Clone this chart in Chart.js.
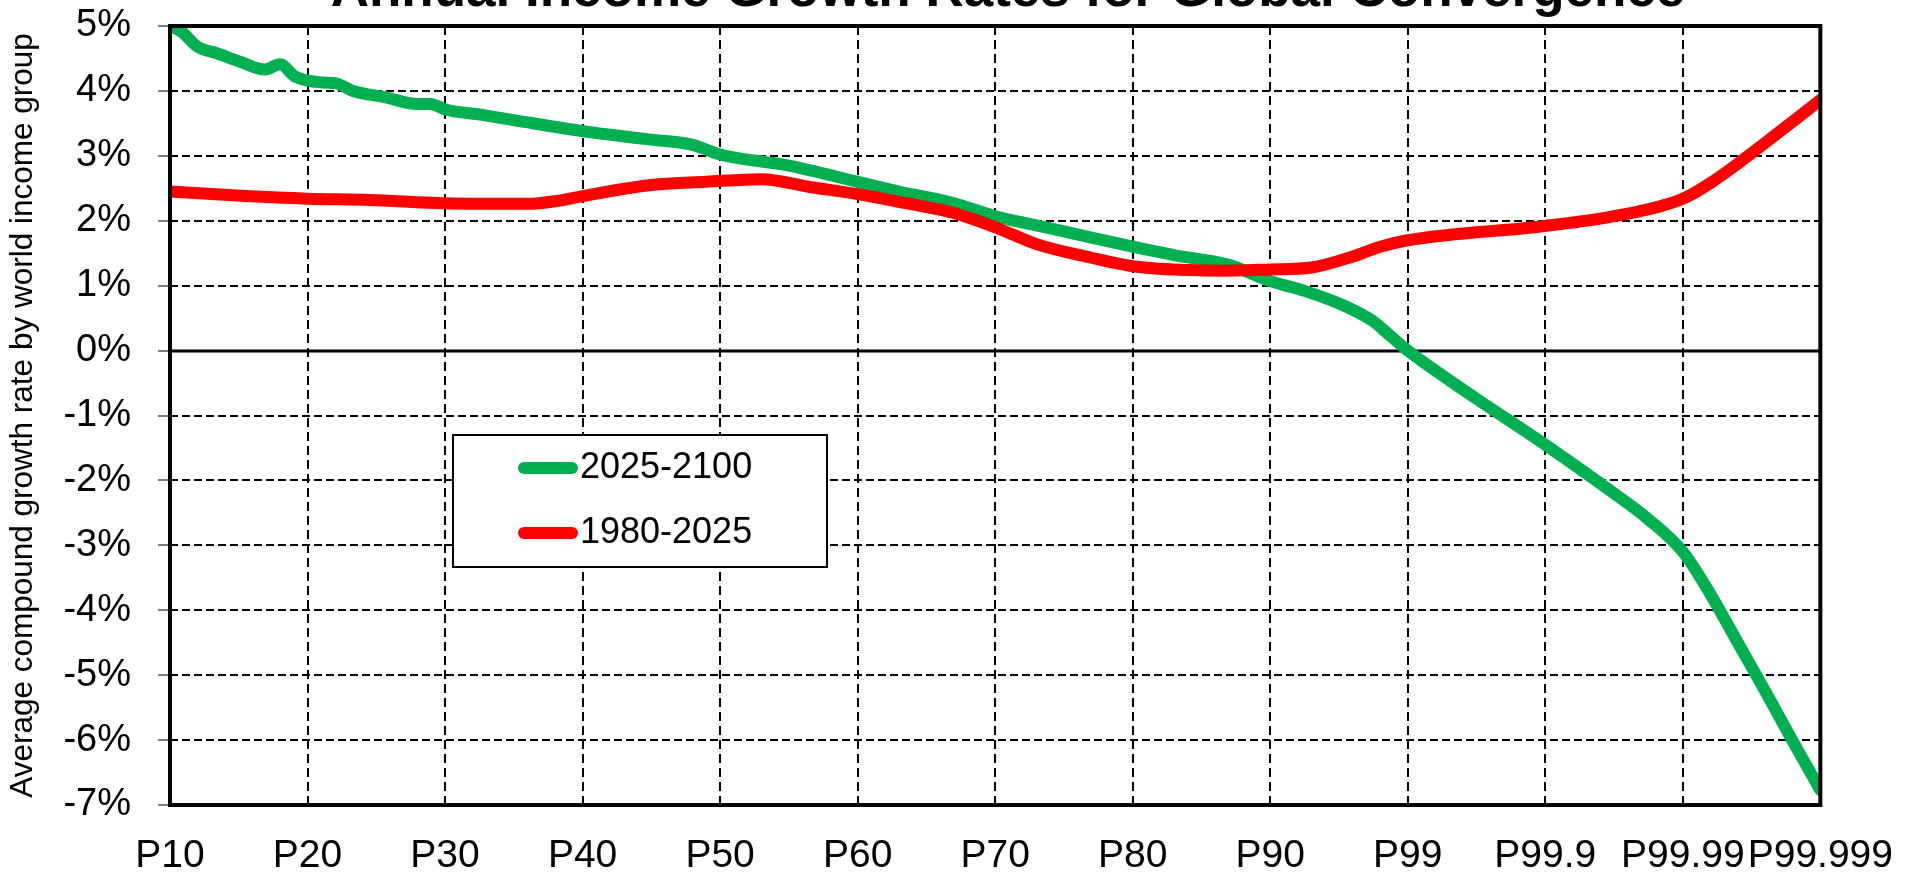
<!DOCTYPE html>
<html>
<head>
<meta charset="utf-8">
<title>Annual Income Growth Rates for Global Convergence</title>
<script src="https://cdn.jsdelivr.net/npm/chart.js@4.4.1/dist/chart.umd.min.js"></script>
<style>
    html, body { margin: 0; padding: 0; background: #fff; }
    #wrap { width: 1921px; height: 875px; }
</style>
</head>
<body>
<div id="wrap"><canvas id="growthChart" width="1921" height="875"></canvas></div>
<script>
var chartTitle = 'Annual Income Growth Rates for Global Convergence';
var yAxisTitle = 'Average compound growth rate by world income group';

// x axis: one label per grid step
var xTickLabels = ['P10', 'P20', 'P30', 'P40', 'P50', 'P60', 'P70', 'P80', 'P90', 'P99', 'P99.9', 'P99.99', 'P99.999'];

// y axis range (percent)
var yMin = -7;
var yMax = 5;

// 2025-2100 series: position along the axis (in grid steps) and growth rate (%)
var futureLabel = '2025-2100';
var futurePos = [0, 0.085, 0.2, 0.34, 0.51, 0.69, 0.8, 0.91, 1.11, 1.2, 1.33, 1.57, 1.79, 1.89, 2.01, 2.27, 2.5,
    3.0, 3.5, 3.8, 4.0, 4.5, 5.0, 5.3, 5.7, 6.0, 6.3, 6.7, 7.0, 7.3, 7.7, 8.0, 8.25, 8.55, 8.75, 8.85,
    9.0, 9.45, 10.0, 10.5, 10.75, 11.0, 11.2, 11.4, 11.6, 11.8, 12.0];
var futureRates = [5.0, 4.91, 4.68, 4.58, 4.45, 4.33, 4.41, 4.22, 4.13, 4.12, 4.0, 3.9, 3.8, 3.8, 3.71, 3.63, 3.55,
    3.38, 3.25, 3.17, 3.02, 2.85, 2.6, 2.45, 2.27, 2.07, 1.93, 1.74, 1.6, 1.47, 1.32, 1.07, 0.92, 0.68, 0.45, 0.27,
    0.0, -0.67, -1.45, -2.2, -2.6, -3.1, -3.75, -4.5, -5.25, -6.02, -6.77];

// 1980-2025 series
var pastLabel = '1980-2025';
var pastPos = [0, 0.55, 1.0, 1.45, 2.0, 2.6, 2.8, 3.0, 3.5, 3.9, 4.3, 4.65, 5.0, 5.35, 5.7, 6.0, 6.3, 6.7,
    7.0, 7.4, 7.65, 8.0, 8.3, 8.6, 8.8, 9.0, 10.0, 10.5, 11.0, 11.2, 11.4, 11.6, 11.8, 12.0];
var pastRates = [2.45, 2.38, 2.34, 2.32, 2.27, 2.26, 2.3, 2.38, 2.55, 2.6, 2.64, 2.52, 2.41, 2.27, 2.12, 1.9, 1.64, 1.43,
    1.3, 1.24, 1.23, 1.25, 1.28, 1.45, 1.6, 1.7, 1.92, 2.07, 2.34, 2.58, 2.88, 3.2, 3.53, 3.86];

var fontFamily = 'Arial, "Liberation Sans", sans-serif';

function toPoints(pos, vals) {
    return pos.map(function(p, i) {
        return { x: p, y: vals[i] };
    });
}

// Title sits partly above the picture, so it is drawn by hand.
var clippedTitle = {
    id: 'clippedTitle',
    afterDraw: function(chart) {
        var ctx = chart.ctx;
        ctx.save();
        ctx.font = 'bold 53px ' + fontFamily;
        ctx.fillStyle = '#000';
        ctx.textAlign = 'center';
        ctx.textBaseline = 'alphabetic';
        ctx.fillText(chartTitle, 1008, 6);
        ctx.restore();
    }
};

// Solid zero line under the series, heavy frame on top of them.
var plotFrame = {
    id: 'plotFrame',
    beforeDatasetsDraw: function(chart) {
        var ctx = chart.ctx;
        var area = chart.chartArea;
        var y0 = Math.round(chart.scales.y.getPixelForValue(0));
        ctx.save();
        ctx.strokeStyle = '#000';
        ctx.lineWidth = 3;
        ctx.beginPath();
        ctx.moveTo(area.left, y0);
        ctx.lineTo(area.right, y0);
        ctx.stroke();
        ctx.restore();
    },
    afterDatasetsDraw: function(chart) {
        var ctx = chart.ctx;
        var area = chart.chartArea;
        ctx.save();
        ctx.strokeStyle = '#000';
        ctx.lineWidth = 4;
        ctx.strokeRect(area.left, area.top, area.right - area.left, area.bottom - area.top);
        ctx.restore();
    }
};

// Legend box inside the plot.
var insideLegend = {
    id: 'insideLegend',
    afterDraw: function(chart) {
        var ctx = chart.ctx;
        var box = { left: 453, top: 435, width: 374, height: 132 };
        ctx.save();
        ctx.fillStyle = '#fff';
        ctx.fillRect(box.left, box.top, box.width, box.height);
        ctx.strokeStyle = '#000';
        ctx.lineWidth = 2;
        ctx.strokeRect(box.left, box.top, box.width, box.height);
        var items = [chart.data.datasets[0], chart.data.datasets[1]];
        items.forEach(function(ds, i) {
            var y = box.top + 33 + i * 65;
            ctx.beginPath();
            ctx.lineCap = 'round';
            ctx.lineWidth = 12;
            ctx.strokeStyle = ds.borderColor;
            ctx.moveTo(box.left + 71, y);
            ctx.lineTo(box.left + 119, y);
            ctx.stroke();
            ctx.fillStyle = '#000';
            ctx.font = '36px ' + fontFamily;
            ctx.textAlign = 'left';
            ctx.textBaseline = 'middle';
            ctx.fillText(ds.label, box.left + 127, y);
        });
        ctx.restore();
    }
};

var ctx = document.getElementById('growthChart').getContext('2d');
var growthChart = new Chart(ctx, {
    type: 'line',
    data: {
        datasets: [
            {
                label: futureLabel,
                data: toPoints(futurePos, futureRates),
                borderColor: '#00B050',
                order: 1
            },
            {
                label: pastLabel,
                data: toPoints(pastPos, pastRates),
                borderColor: '#FF0000',
                order: 0
            }
        ]
    },
    options: {
        responsive: false,
        animation: false,
        devicePixelRatio: 1,
        layout: {
            padding: { top: 26, right: 98, bottom: 0, left: 0 }
        },
        elements: {
            line: {
                borderWidth: 12,
                borderCapStyle: 'round',
                borderJoinStyle: 'round',
                cubicInterpolationMode: 'monotone',
                fill: false
            },
            point: { radius: 0 }
        },
        datasets: {
            line: { clip: 0 }
        },
        plugins: {
            legend: { display: false },
            title: { display: false },
            tooltip: { enabled: false }
        },
        scales: {
            x: {
                type: 'linear',
                min: 0,
                max: xTickLabels.length - 1,
                afterFit: function(scale) { scale.height = 70; },
                ticks: {
                    stepSize: 1,
                    autoSkip: false,
                    maxRotation: 0,
                    padding: 28,
                    color: '#000',
                    font: { family: fontFamily, size: 39 },
                    callback: function(value) { return xTickLabels[value]; }
                },
                grid: {
                    color: '#000',
                    lineWidth: 2,
                    drawTicks: false
                },
                border: { display: false, dash: [9, 5] }
            },
            y: {
                min: yMin,
                max: yMax,
                afterFit: function(scale) {
                    // fixed axis width; label padding must not push the plot down
                    scale.width = 170;
                    scale.paddingTop = 0;
                    scale.paddingBottom = 0;
                },
                ticks: {
                    stepSize: 1,
                    padding: 27,
                    color: '#000',
                    font: { family: fontFamily, size: 38 },
                    callback: function(value) { return value + '%'; }
                },
                grid: {
                    color: '#000',
                    lineWidth: 2,
                    tickLength: 12,
                    tickColor: '#808080',
                    tickWidth: 2,
                    tickBorderDash: []
                },
                border: { display: false, dash: [8, 4] },
                title: {
                    display: true,
                    text: yAxisTitle,
                    color: '#000',
                    font: { family: fontFamily, size: 31.5 },
                    padding: { top: 4, bottom: 0 }
                }
            }
        }
    },
    plugins: [plotFrame, insideLegend, clippedTitle]
});
</script>
</body>
</html>
